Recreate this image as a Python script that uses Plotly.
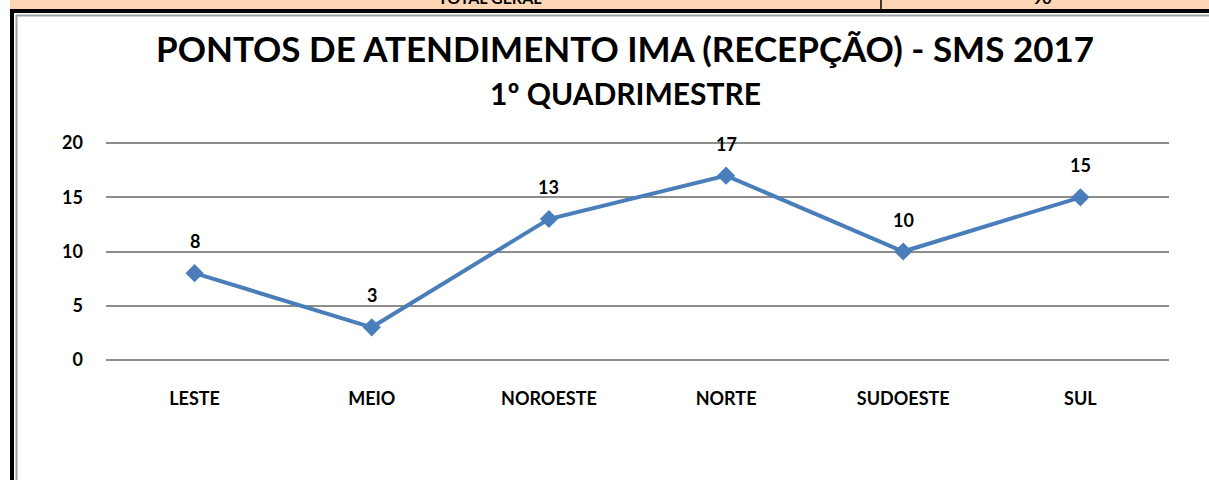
import plotly.graph_objects as go

categories = ["LESTE", "MEIO", "NOROESTE", "NORTE", "SUDOESTE", "SUL"]
values = [8, 3, 13, 17, 10, 15]
y_ticks = [0, 5, 10, 15, 20]
title_text = "PONTOS DE ATENDIMENTO IMA (RECEPÇÃO) - SMS 2017"
subtitle_text = "1º QUADRIMESTRE"

W, H = 1209, 480
L, R, T, B = 106, 40, 141, 118
PW, PH = W - L - R, H - T - B


def px(x):
    return (x - L) / PW


def py(y):
    return (H - B - y) / PH


FONT = "Lato"
BLUE = "#4A7EBB"

fig = go.Figure()
fig.add_trace(go.Scatter(
    x=categories, y=values, mode="lines+markers",
    line=dict(color=BLUE, width=4),
    marker=dict(symbol="diamond", size=14, color=BLUE),
    cliponaxis=False, showlegend=False, hoverinfo="skip",
))

shapes = [
    dict(type="rect", xref="paper", yref="paper", x0=px(10), x1=px(W + 5), y0=py(9), y1=py(-5),
         fillcolor="#FCD5B4", line=dict(width=0), layer="below"),
    dict(type="line", xref="paper", yref="paper", x0=px(881), x1=px(881), y0=py(9), y1=py(-5),
         line=dict(color="black", width=1.5)),
    dict(type="rect", xref="paper", yref="paper", x0=px(10), x1=px(W + 5), y0=py(13), y1=py(9),
         fillcolor="black", line=dict(width=0)),
    dict(type="rect", xref="paper", yref="paper", x0=px(10), x1=px(14), y0=py(H + 5), y1=py(9),
         fillcolor="black", line=dict(width=0)),
    dict(type="line", xref="paper", yref="paper", x0=px(16), x1=px(W + 5), y0=py(15.5), y1=py(15.5),
         line=dict(color="#A0A0A0", width=2)),
    dict(type="line", xref="paper", yref="paper", x0=px(16.5), x1=px(16.5), y0=py(15), y1=py(H + 5),
         line=dict(color="#A0A0A0", width=2)),
]

annotations = [
    dict(text="<b>" + title_text + "</b>", xref="paper", yref="paper", x=px(625), y=py(48),
         xanchor="center", yanchor="middle", showarrow=False,
         font=dict(family=FONT, size=35, color="black")),
    dict(text="<b>" + subtitle_text + "</b>", xref="paper", yref="paper", x=px(625), y=py(93),
         xanchor="center", yanchor="middle", showarrow=False,
         font=dict(family=FONT, size=30, color="black")),
    dict(text="<b>TOTAL GERAL</b>", xref="paper", yref="paper", x=px(490), y=py(-3),
         xanchor="center", yanchor="middle", showarrow=False,
         font=dict(family=FONT, size=16, color="black")),
    dict(text="<b>90</b>", xref="paper", yref="paper", x=px(1042), y=py(-3),
         xanchor="center", yanchor="middle", showarrow=False,
         font=dict(family=FONT, size=16, color="black")),
]
for c, v in zip(categories, values):
    annotations.append(dict(
        text="<b>%d</b>" % v, x=c, y=v, xref="x", yref="y", showarrow=False,
        yshift=32, xanchor="center", yanchor="middle",
        font=dict(family=FONT, size=18, color="black"),
    ))

fig.update_layout(
    width=W, height=H,
    margin=dict(l=L, r=R, t=T, b=B),
    paper_bgcolor="white", plot_bgcolor="white",
    shapes=shapes, annotations=annotations,
    xaxis=dict(type="category", range=[-0.5, 5.5], showgrid=False, showline=False,
               zeroline=False, ticks="", ticklabelstandoff=24,
               tickfont=dict(family=FONT, size=18, color="black", weight="bold")),
    yaxis=dict(range=[-0.2, 20.2], tickvals=y_ticks, showgrid=True, gridcolor="#8C8C8C",
               gridwidth=1.5, zeroline=False, showline=False, ticks="",
               ticklabelstandoff=22,
               tickfont=dict(family=FONT, size=18, color="black", weight="bold")),
)

fig.write_html("out.html", config={"displayModeBar": False},
               post_script="document.body.style.margin='0';document.body.style.overflow='hidden';")
